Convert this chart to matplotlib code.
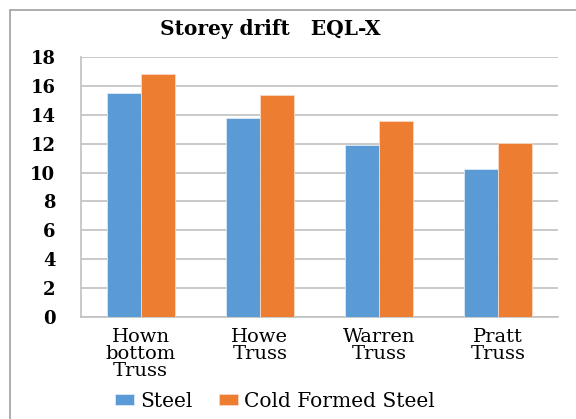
import numpy as np
import matplotlib
matplotlib.use("Agg")
import matplotlib.pyplot as plt
from matplotlib.patches import Rectangle

# data
categories = ["Hown\nbottom\nTruss", "Howe\nTruss", "Warren\nTruss", "Pratt\nTruss"]
steel = [15.5, 13.75, 11.9, 10.25]
cfs = [16.8, 15.35, 13.6, 12.05]
yticks = [0, 2, 4, 6, 8, 10, 12, 14, 16, 18]

plt.rcParams['font.family'] = ['DejaVu Serif']

fig = plt.figure(figsize=(5.76, 4.19), dpi=100)
ax = fig.add_axes([81/576, 1-317/419, 477/576, 260/419])

x = np.arange(len(categories))
w = 0.285
ax.bar(x - w/2, steel, w, color="#5B9BD5", edgecolor="#dce9f5", linewidth=0.6, label="Steel", zorder=3)
ax.bar(x + w/2, cfs, w, color="#ED7D31", edgecolor="#f9d9c4", linewidth=0.6, label="Cold Formed Steel", zorder=3)

ax.set_xlim(-0.5, len(categories) - 0.5)
ax.set_ylim(0, 18)
ax.set_yticks(yticks)
ax.set_yticklabels([str(t) for t in yticks], fontsize=13, fontweight="bold")
ax.set_xticks(x)
ax.set_xticklabels(categories, fontsize=14, linespacing=0.92)
ax.tick_params(length=0)
ax.tick_params(axis="y", pad=18.5)
ax.tick_params(axis="x", pad=8)
ax.grid(axis="y", color="#c0c0c0", linewidth=1.2, zorder=0)
for s in ["top", "right"]:
    ax.spines[s].set_visible(False)
ax.spines["left"].set_color("#c0c0c0")
ax.spines["bottom"].set_color("#c0c0c0")
ax.spines["left"].set_linewidth(1.2)
ax.spines["bottom"].set_linewidth(1.2)

fig.text(0.469, 1-29/419, "Storey drift   EQL-X", ha="center", va="center",
         fontsize=14.5, fontweight="bold")

fig.legend(loc="center", bbox_to_anchor=(0.477, 1-401/419), ncol=2, frameon=False,
           fontsize=14.5, handlelength=0.95, handleheight=0.45, columnspacing=1.3,
           handletextpad=0.3)

fig.patches.append(Rectangle((10/576, -0.1), 1.2, 1.1 - 10/419, transform=fig.transFigure,
                             fill=False, edgecolor="#a0a0a0", linewidth=1.2))

fig.savefig("out.png", dpi=100)
